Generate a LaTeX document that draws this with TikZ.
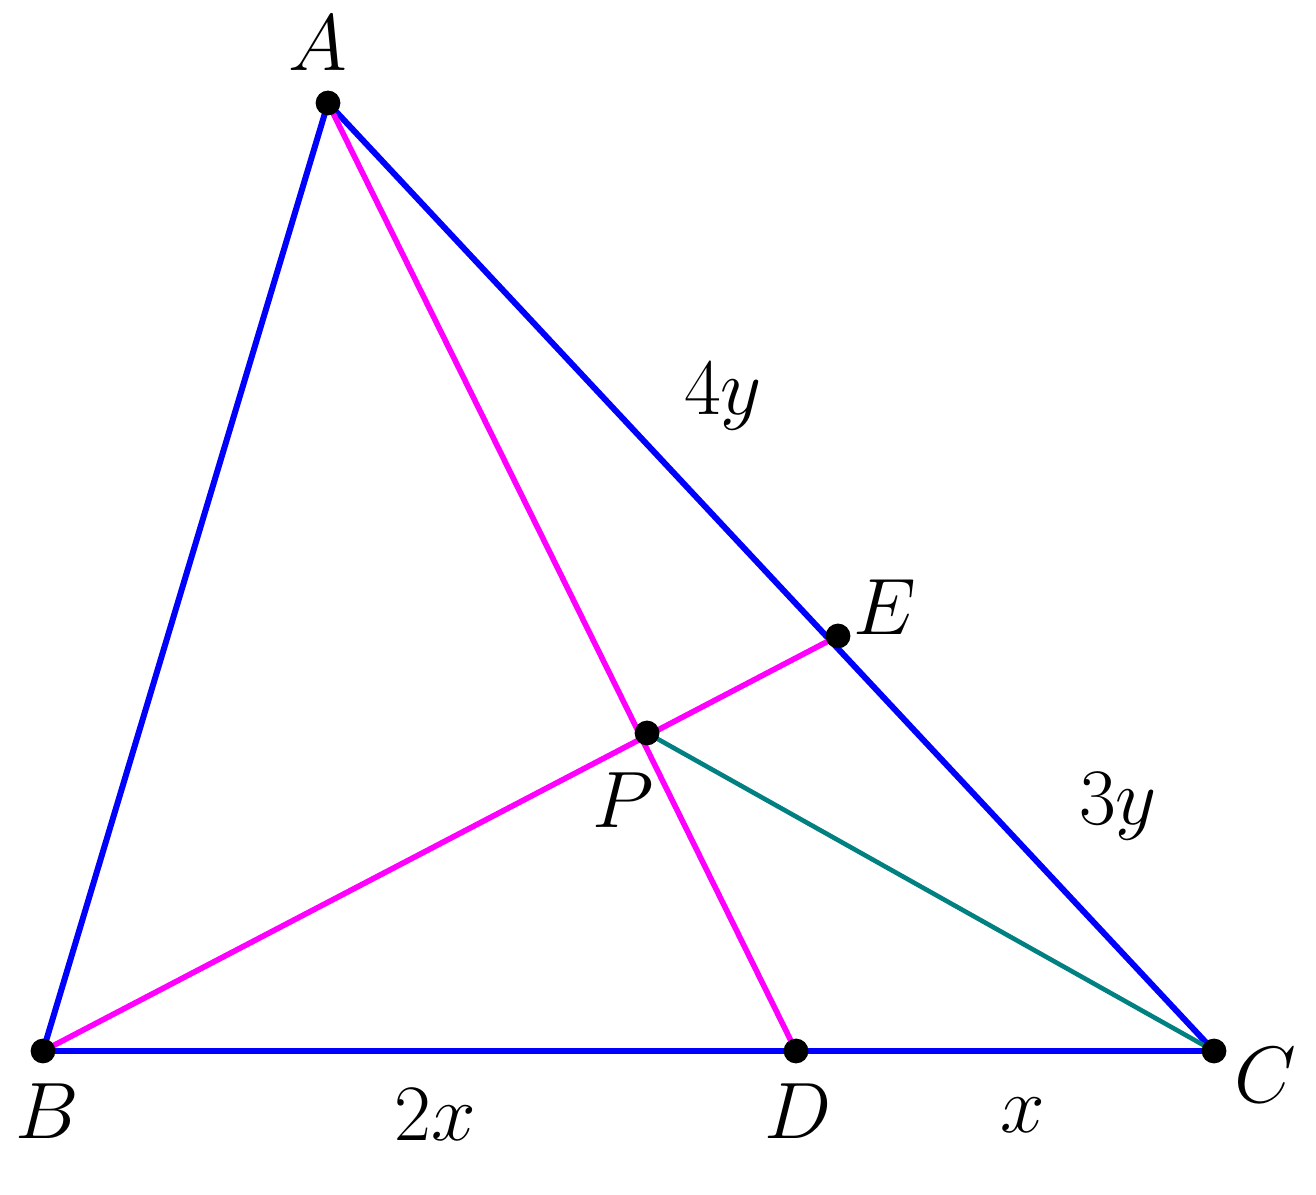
\RequirePackage{fix-cm}
\documentclass[tikz,border=0pt]{standalone}
\definecolor{myblue}{RGB}{0,0,255}
\definecolor{mymag}{RGB}{255,0,255}
\definecolor{myteal}{RGB}{0,128,128}
\begin{document}
\begin{tikzpicture}[x=0.25pt,y=-0.25pt,
  seg/.style={line width=1.5pt},
  thinseg/.style={line width=1.15pt},
  dot/.style={circle,fill=black,inner sep=0pt,minimum size=6.2pt},
  lbl/.style={inner sep=0pt,font=\fontsize{20}{24}\selectfont}]
\useasboundingbox (0,0) rectangle (1316,1195);
\coordinate (A) at (328,103);
\coordinate (B) at (43,1051);
\coordinate (C) at (1214,1051);
\coordinate (D) at (796,1051);
\coordinate (E) at (838,636);
\coordinate (P) at (647,733);
\draw[seg,myblue] (B) -- (C);
\draw[seg,myblue] (A) -- (B);
\draw[seg,myblue] (A) -- (C);
\draw[thinseg,myteal] (P) -- (C);
\draw[seg,mymag,line width=1.4pt] (A) -- (D);
\draw[seg,mymag,line width=1.4pt] (B) -- (E);
\foreach \p in {A,B,C,D,E,P} \node[dot] (dot\p) at (\p) {};
\node[lbl] (lA) at (318,43) {$A$};
\node[lbl] (lB) at (47,1111) {$B$};
\node[lbl] (lC) at (1265,1075) {$C$};
\node[lbl] (lD) at (798,1111) {$D$};
\node[lbl] (lE) at (885,607) {$E$};
\node[lbl] (lP) at (623,800) {$P$};
\node[lbl] (l4y) at (723,397) {$4y$};
\node[lbl] (l3y) at (1118,806) {$3y$};
\node[lbl] (l2x) at (435,1115) {$2x$};
\node[lbl] (lx) at (1023,1115) {$x$};
\end{tikzpicture}
\end{document}
